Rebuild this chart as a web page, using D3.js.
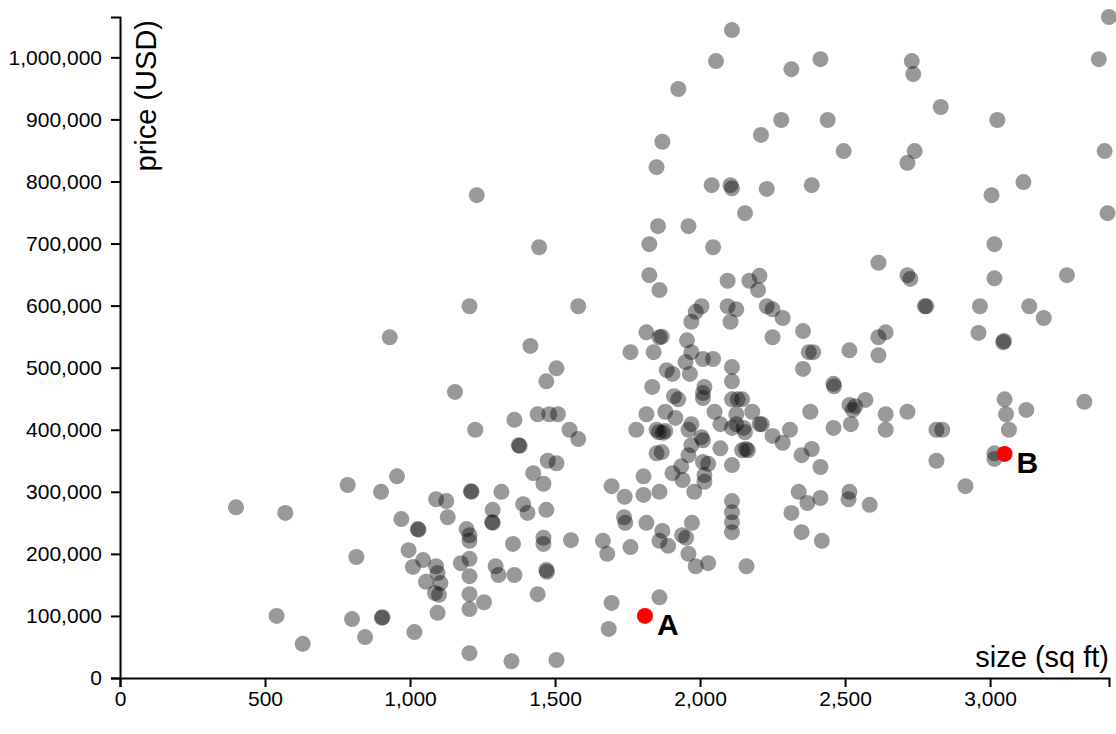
<!DOCTYPE html>
<html><head><meta charset="utf-8">
<script src="https://cdn.jsdelivr.net/npm/d3@7"></script>
<style>body{margin:0;background:#fff} svg{display:block}</style>
</head><body>
<svg id="chart" width="1116" height="734"></svg>
<script>
const sizes = [
1230,2110,2055,1925,2315,2415,2280,2440,2210,2495,1870,1850,2040,2105,2110,2230,2385,2155,1855,1960,
3410,2730,2735,2830,3025,3375,2740,2715,3395,3115,3005,3405,
1445,1205,1580,930,1415,1505,1470,1155,1440,1480,1510,1360,1225,1550,1580,1375,1378,1475,1505,
1825,2045,1825,1860,2095,2170,2205,2200,2005,1985,1970,2095,2125,2105,2230,2250,2285,2355,2250,
1815,1860,1868,1760,1840,1955,1970,1950,2010,2045,2110,2110,1885,1905,1965,1835,2375,2390,2355,2515,
2460,2462,1910,1925,2015,2010,2010,2110,2130,2145,2050,2125,2180,1815,1880,1915,1780,1850,1858,1872,
1880,1960,1970,2070,2110,2125,2150,2155,2205,2213,2250,2310,2285,2380,2460,2520,2515,2535,2527,2570,
2005,2010,1970,2070,2145,2158,2165,1850,1868,1960,2350,2385,2010,2028,2110,2415,
3015,2615,2715,2725,3015,3265,2780,2775,2965,3135,3185,2640,2615,2615,2960,3048,3045,2640,2715,2815,
2835,2640,3050,3055,3125,3065,3325,2815,3015,3015,
400,570,785,815,540,630,800,845,
955,1425,1460,900,1090,1125,1210,1212,1315,1390,1405,1470,1285,1283,1285,1130,970,1027,1029,1195,
1205,1205,1460,1460,1355,1555,1665,1680,1695,995,1045,1010,1090,1095,1175,1205,1205,1295,1305,1360,
1470,1472,1055,1105,1086,1100,1205,1255,1440,1095,1205,905,903,1015,1695,1685,1205,1350,1505,
1935,1905,1940,2015,2015,1805,1740,1805,1860,1980,2110,2110,2110,2110,2340,2370,2415,2315,2515,2512,
2585,1738,1742,1815,1870,1860,1890,1938,1952,1972,2350,2420,1760,1960,1985,2028,2160,1860,2915
];
const prices = [
778000,1044000,994000,949000,981000,997000,899000,899000,875000,849000,864000,823000,794000,794000,789000,788000,794000,749000,728000,728000,
1065000,994000,973000,920000,899000,997000,849000,830000,849000,799000,778000,749000,
694000,599000,599000,549000,535000,499000,478000,461000,425000,425000,425000,416000,400000,400000,385000,375000,374000,350000,346000,
699000,694000,649000,625000,640000,640000,648000,625000,599000,590000,574000,599000,594000,574000,599000,594000,580000,559000,549000,
557000,549000,550000,525000,525000,544000,525000,509000,514000,514000,501000,478000,496000,490000,490000,469000,525000,525000,498000,528000,
474000,470000,454000,449000,469000,459000,451000,449000,449000,449000,429000,425000,429000,425000,429000,419000,400000,400000,396000,395000,
398000,400000,409000,409000,403000,409000,403000,396000,409000,409000,390000,400000,379000,429000,403000,409000,440000,438000,432000,448000,
388000,383000,375000,370000,367000,369000,367000,362000,364000,359000,359000,369000,348000,345000,343000,340000,
699000,669000,649000,643000,644000,649000,599000,599000,599000,599000,580000,557000,549000,520000,556000,543000,541000,425000,429000,400000,
400000,400000,449000,425000,432000,400000,445000,350000,362000,353000,
275000,266000,311000,195000,100000,55000,95000,66000,
325000,330000,313000,300000,288000,285000,301000,300000,300000,280000,266000,271000,271000,251000,250000,259000,256000,240000,239000,240000,
230000,221000,226000,216000,216000,222000,221000,200000,309000,206000,190000,179000,180000,169000,185000,192000,164000,180000,166000,166000,
174000,171000,155000,153000,137000,134000,135000,122000,135000,105000,111000,98000,97000,74000,121000,79000,40000,27000,29000,
341000,330000,319000,327000,316000,325000,292000,295000,300000,300000,285000,267000,251000,235000,300000,282000,290000,266000,300000,288000,
279000,259000,250000,250000,237000,221000,213000,230000,226000,250000,235000,221000,211000,200000,180000,185000,180000,130000,309000
];
const highlightLabels = ["A", "B"];
const highlightSizes = [1810, 3050];
const highlightPrices = [100000, 361000];
const xTickValues = [0, 500, 1000, 1500, 2000, 2500, 3000];
const yTickValues = [0, 100000, 200000, 300000, 400000, 500000, 600000, 700000, 800000, 900000, 1000000];
const xLabel = "size (sq ft)";
const yLabel = "price (USD)";

const FONT = "'Liberation Sans', Arial, Helvetica, sans-serif";
const svg = d3.select("#chart");
const L = 120, R = 1109, T = 17, B = 678;

const x = d3.scaleLinear().domain([0, d3.max(sizes)]).range([L, R]);
const y = d3.scaleLinear().domain([0, d3.max(prices)]).range([B, T]);

const pts = sizes.map((s, i) => ({s, p: prices[i]}));
svg.append("g").selectAll("circle").data(pts).join("circle")
  .attr("cx", d => x(d.s)).attr("cy", d => y(d.p)).attr("r", 8)
  .attr("fill", "#000").attr("fill-opacity", 0.4);

const hl = highlightLabels.map((l, i) => ({l, s: highlightSizes[i], p: highlightPrices[i]}));
svg.append("g").selectAll("circle").data(hl).join("circle")
  .attr("cx", d => x(d.s)).attr("cy", d => y(d.p)).attr("r", 8).attr("fill", "red");
svg.append("g").selectAll("text").data(hl).join("text")
  .attr("x", d => x(d.s) + 12).attr("y", d => y(d.p) + 19)
  .attr("font-family", FONT).attr("font-size", 30).attr("font-weight", "bold")
  .text(d => d.l);

const xAxis = svg.append("g").attr("transform", `translate(0,${B})`)
  .call(d3.axisBottom(x).tickValues(xTickValues).tickFormat(d3.format(",")).tickSize(9).tickPadding(4));
const yAxis = svg.append("g").attr("transform", `translate(${L},0)`)
  .call(d3.axisLeft(y).tickValues(yTickValues).tickFormat(d3.format(",")).tickSize(9).tickPadding(9));
[xAxis, yAxis].forEach(a => {
  a.selectAll("path").attr("stroke-width", 2);
  a.selectAll("line").attr("stroke-width", 2);
  a.selectAll("text").attr("font-family", FONT).attr("font-size", 21).attr("fill", "#000");
});

svg.append("text").attr("x", R).attr("y", 667).attr("text-anchor", "end")
  .attr("font-family", FONT).attr("font-size", 29).text(xLabel);
svg.append("text").attr("transform", `translate(156,20) rotate(-90)`).attr("text-anchor", "end")
  .attr("font-family", FONT).attr("font-size", 29).text(yLabel);
</script>
</body></html>
